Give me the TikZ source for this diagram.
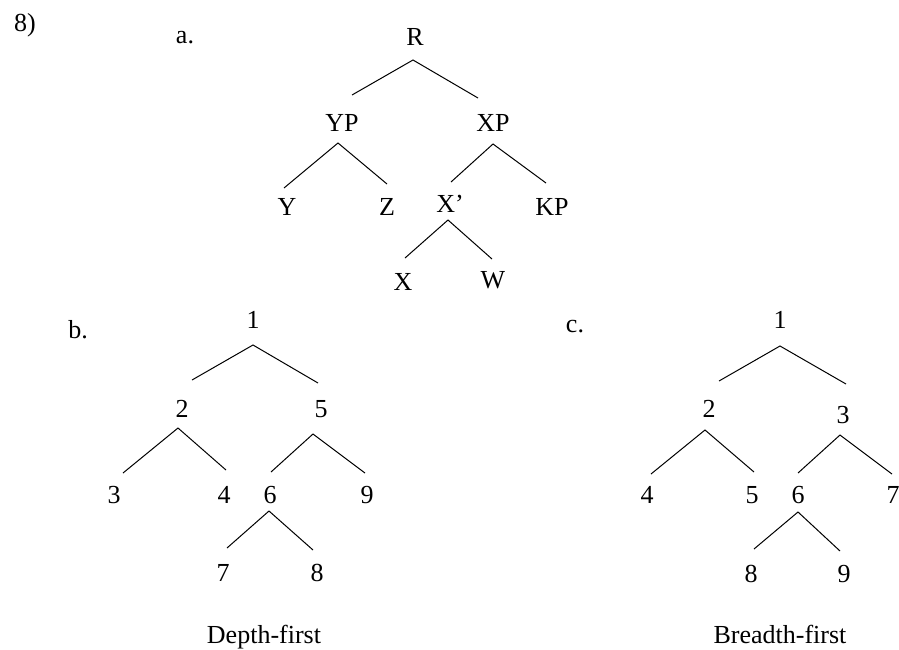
\documentclass[tikz,border=0pt]{standalone}
\usepackage{fontspec}
\setmainfont{Liberation Serif}
\begin{document}
\begin{tikzpicture}[x=1pt,y=-1pt,
  lbl/.style={anchor=base,inner sep=0pt,font=\fontsize{26}{30}\selectfont},
  edge/.style={line width=1pt}]
\useasboundingbox (0,0) rectangle (899,649);
% labels
\node[lbl] (n8) at (25,31) {8)};
\node[lbl] (la) at (185,43) {a.};
\node[lbl] (lb) at (78,338) {b.};
\node[lbl] (lc) at (575,332) {c.};
% tree a
\node[lbl] (R) at (415,45) {R};
\node[lbl] (YP) at (342,131) {YP};
\node[lbl] (XP) at (493,131) {XP};
\node[lbl] (Y) at (287,215) {Y};
\node[lbl] (Z) at (387,215) {Z};
\node[lbl] (Xb) at (450,212) {X'};
\node[lbl] (KP) at (552,215) {KP};
\node[lbl] (X) at (403,290) {X};
\node[lbl] (W) at (493,288) {W};
\coordinate (Ra) at (413,60); \coordinate (Rl) at (352,95); \coordinate (Rr) at (478,98);
\coordinate (YPa) at (338,143); \coordinate (YPl) at (284,188); \coordinate (YPr) at (387,184);
\coordinate (XPa) at (493,144); \coordinate (XPl) at (451,182); \coordinate (XPr) at (546,183);
\coordinate (Xba) at (448,220); \coordinate (Xbl) at (405,258); \coordinate (Xbr) at (492,259);
\draw[edge] (Rl) -- (Ra) -- (Rr);
\draw[edge] (YPl) -- (YPa) -- (YPr);
\draw[edge] (XPl) -- (XPa) -- (XPr);
\draw[edge] (Xbl) -- (Xba) -- (Xbr);
% tree b
\node[lbl] (b1) at (253,328) {1};
\node[lbl] (b2) at (182,417) {2};
\node[lbl] (b5) at (321,417) {5};
\node[lbl] (b3) at (114,503) {3};
\node[lbl] (b4) at (224,503) {4};
\node[lbl] (b6) at (270,503) {6};
\node[lbl] (b9) at (367,503) {9};
\node[lbl] (b7) at (223,581) {7};
\node[lbl] (b8) at (317,581) {8};
\coordinate (b1a) at (253,345); \coordinate (b1l) at (192,380); \coordinate (b1r) at (318,383);
\coordinate (b2a) at (178,428); \coordinate (b2l) at (123,473); \coordinate (b2r) at (226,470);
\coordinate (b5a) at (313,434); \coordinate (b5l) at (271,472); \coordinate (b5r) at (365,473);
\coordinate (b6a) at (269,511); \coordinate (b6l) at (227,548); \coordinate (b6r) at (313,550);
\draw[edge] (b1l) -- (b1a) -- (b1r);
\draw[edge] (b2l) -- (b2a) -- (b2r);
\draw[edge] (b5l) -- (b5a) -- (b5r);
\draw[edge] (b6l) -- (b6a) -- (b6r);
\node[lbl] (df) at (264,643) {Depth-first};
% tree c
\node[lbl] (c1) at (780,328) {1};
\node[lbl] (c2) at (709,417) {2};
\node[lbl] (c3) at (843,423) {3};
\node[lbl] (c4) at (647,503) {4};
\node[lbl] (c5) at (752,503) {5};
\node[lbl] (c6) at (798,503) {6};
\node[lbl] (c7) at (893,503) {7};
\node[lbl] (c8) at (751,582) {8};
\node[lbl] (c9) at (844,582) {9};
\coordinate (c1a) at (780,346); \coordinate (c1l) at (719,381); \coordinate (c1r) at (846,384);
\coordinate (c2a) at (705,430); \coordinate (c2l) at (651,474); \coordinate (c2r) at (754,472);
\coordinate (c3a) at (840,435); \coordinate (c3l) at (798,473); \coordinate (c3r) at (892,474);
\coordinate (c6a) at (798,512); \coordinate (c6l) at (754,549); \coordinate (c6r) at (840,551);
\draw[edge] (c1l) -- (c1a) -- (c1r);
\draw[edge] (c2l) -- (c2a) -- (c2r);
\draw[edge] (c3l) -- (c3a) -- (c3r);
\draw[edge] (c6l) -- (c6a) -- (c6r);
\node[lbl] (bf) at (780,643) {Breadth-first};
\end{tikzpicture}
\end{document}
